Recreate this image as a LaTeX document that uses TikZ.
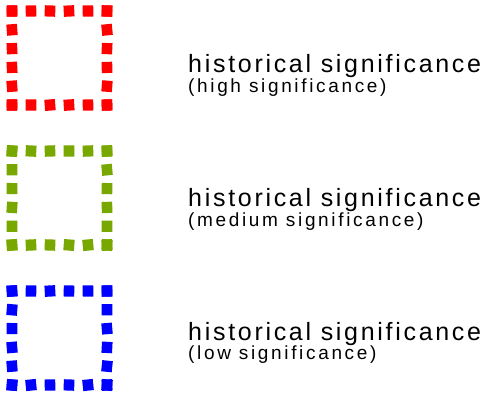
\documentclass[tikz,border=0pt]{standalone}
\usepackage{fontspec}
\setmainfont{Liberation Sans}
\newfontfamily\mainfam[LetterSpace=10.8]{Liberation Sans}
\newfontfamily\subfam[LetterSpace=14]{Liberation Sans}
\definecolor{sqred}{RGB}{255,0,0}
\definecolor{sqgreen}{RGB}{120,168,0}
\definecolor{sqblue}{RGB}{0,0,255}
\tikzset{
  maintext/.style={anchor=base west, inner sep=0pt, font=\mainfam\fontsize{25}{28}\selectfont},
  subtext/.style={anchor=base west, inner sep=0pt, font=\subfam\fontsize{19}{21}\selectfont},
}
\begin{document}
\begin{tikzpicture}[x=1pt,y=-1pt]
\useasboundingbox (0,0) rectangle (500,405);
\pgfmathsetseed{7}
\foreach \c/\oy in {sqred/0, sqgreen/140, sqblue/280}{
  \foreach \k in {0,...,5}{
    \foreach \px/\py in {{12+19*\k}/{11+\oy}, {12+19*\k}/{105+\oy}, {12}/{11+18.8*\k+\oy}, {107}/{11+18.8*\k+\oy}}{
      \pgfmathsetmacro\r{rand*6}
      \begin{scope}[shift={(\px,\py)}, rotate=\r]
        \fill[\c] (-5.3,-5.6) rectangle (5.3,5.6);
      \end{scope}
    }
  }
}
\node[maintext] (t1) at (188,72) {historical significance};
\node[subtext] (s1) at (188,92) {(high significance)};
\node[maintext] (t2) at (188,206) {historical significance};
\node[subtext] (s2) at (188,226) {(medium significance)};
\node[maintext] (t3) at (188,340) {historical significance};
\node[subtext] (s3) at (188,359) {(low significance)};
\end{tikzpicture}
\end{document}
